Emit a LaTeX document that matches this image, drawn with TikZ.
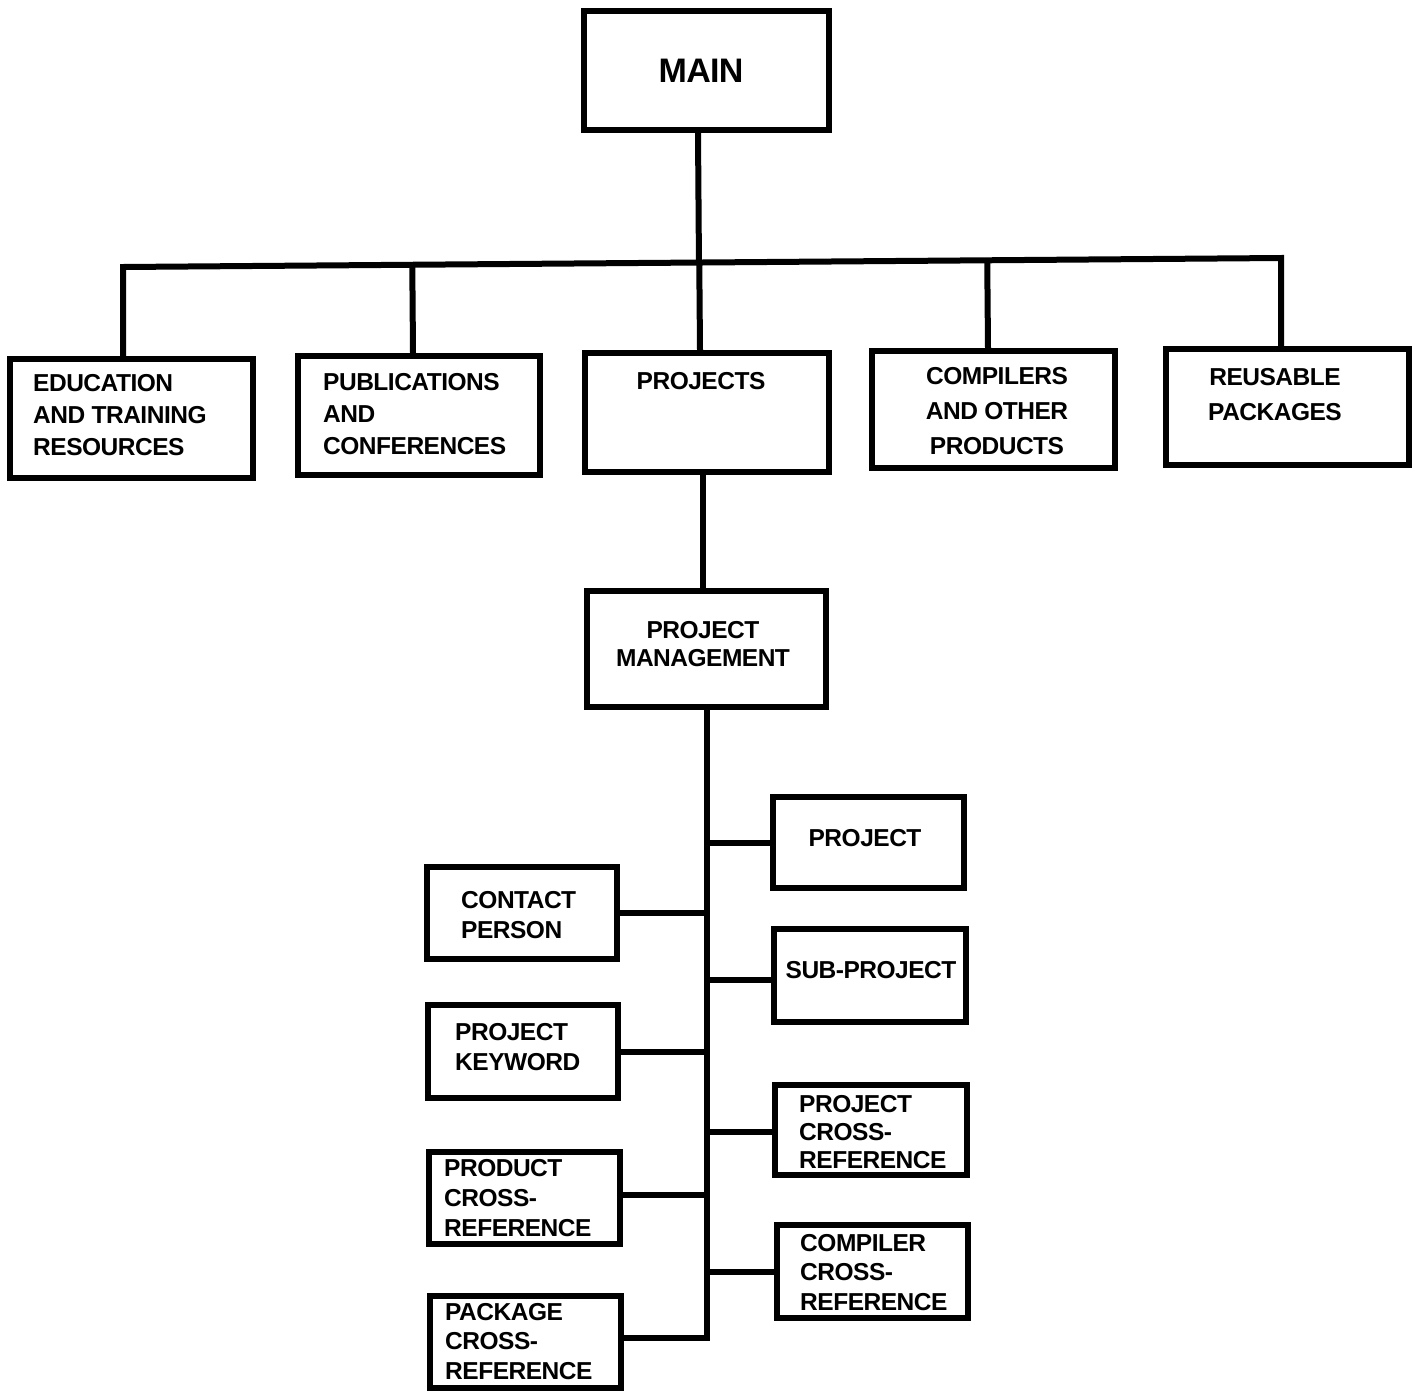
\documentclass[tikz,border=0pt]{standalone}
\usepackage{fontspec}
\setmainfont{Liberation Sans}
\newfontfamily\lblfont{Liberation Sans}[LetterSpace=-2.0]
\usetikzlibrary{calc}
\begin{document}
\begin{tikzpicture}[x=1pt,y=-1pt,
  box/.style={draw=black,line width=5.5pt,inner sep=0pt,fill=white},
  conn/.style={draw=black,line width=6pt},
  lbl/.style={inner sep=0pt,align=left,anchor=north west,font=\lblfont\bfseries\fontsize{24.5}{31}\selectfont},
  clbl/.style={inner sep=0pt,align=center,anchor=north,font=\lblfont\bfseries\fontsize{24.5}{31}\selectfont}]
\useasboundingbox[fill=white] (0,0) rectangle (1416,1395);
% bus end points
\coordinate (busL) at (123,267);
\coordinate (busR) at (1281,258);
% boxes
\node[box,minimum width=245pt,minimum height=119pt] (main) at (706.5,70.5) {};
\node[box,minimum width=243pt,minimum height=119pt] (edu) at (131.5,418.5) {};
\node[box,minimum width=242pt,minimum height=119pt] (pub) at (419,415.5) {};
\node[box,minimum width=244pt,minimum height=119pt] (proj) at (707,412.5) {};
\node[box,minimum width=243pt,minimum height=117pt] (comp) at (993.5,409.5) {};
\node[box,minimum width=243pt,minimum height=116pt] (reus) at (1287.5,407) {};
\node[box,minimum width=239pt,minimum height=116pt] (pm) at (706.5,649) {};
\node[box,minimum width=191pt,minimum height=91pt] (project) at (868.5,842.5) {};
\node[box,minimum width=192pt,minimum height=93pt] (subproj) at (870,975.5) {};
\node[box,minimum width=192pt,minimum height=90pt] (pxr) at (871,1130) {};
\node[box,minimum width=191pt,minimum height=93pt] (cxr) at (872.5,1271.5) {};
\node[box,minimum width=190pt,minimum height=92pt] (contact) at (522,913) {};
\node[box,minimum width=190pt,minimum height=93pt] (keyword) at (523,1051.5) {};
\node[box,minimum width=191pt,minimum height=92pt] (prodxr) at (524.5,1198) {};
\node[box,minimum width=191pt,minimum height=92pt] (pkgxr) at (525.5,1342) {};
% tree connectors
\draw[conn] (edu.north -| busL) -- (busL) -- (busR) -- (busR |- reus.north);
\draw[conn] ([xshift=-8.5pt]main.south) -- ($(busL)!([xshift=-8.5pt]main.south)!(busR)$);
\draw[conn] ([xshift=-6pt]pub.north) -- ($(busL)!([xshift=-6pt]pub.north)!(busR)$);
\draw[conn] ([xshift=-7pt]proj.north) -- ($(busL)!([xshift=-7pt]proj.north)!(busR)$);
\draw[conn] ([xshift=-5.5pt]comp.north) -- ($(busL)!([xshift=-5.5pt]comp.north)!(busR)$);
\draw[conn] ([xshift=-4pt]proj.south) -- ([xshift=-4pt]proj.south |- pm.north);
\draw[conn] (pm.south) -- ([yshift=4pt]pm.south |- pkgxr.east) -- ([yshift=4pt]pkgxr.east);
\draw[conn] (project.west) -- (project.west -| pm.south);
\draw[conn] ([yshift=-4pt]subproj.west) -- ([yshift=-4pt]subproj.west -| pm.south);
\draw[conn] ([yshift=-2pt]pxr.west) -- ([yshift=-2pt]pxr.west -| pm.south);
\draw[conn] (cxr.west) -- (cxr.west -| pm.south);
\draw[conn] (contact.east) -- (contact.east -| pm.south);
\draw[conn] (keyword.east) -- (keyword.east -| pm.south);
\draw[conn] ([yshift=3pt]prodxr.east) -- ([yshift=3pt]prodxr.east -| pm.south);
% labels
\node[inner sep=0pt,font=\lblfont\bfseries\fontsize{34}{40}\selectfont] (mainT) at (701,71) {MAIN};
\node[lbl,font=\lblfont\bfseries\fontsize{24.5}{32}\selectfont] (eduT) at (33,374) {EDUCATION\\AND TRAINING\\RESOURCES};
\node[lbl,font=\lblfont\bfseries\fontsize{24.5}{32}\selectfont] (pubT) at (323,373) {PUBLICATIONS\\AND\\CONFERENCES};
\node[clbl] (projT) at (701,372) {PROJECTS};
\node[clbl,font=\lblfont\bfseries\fontsize{24.5}{35}\selectfont] (compT) at (997,367) {COMPILERS\\AND OTHER\\PRODUCTS};
\node[clbl,font=\lblfont\bfseries\fontsize{24.5}{35}\selectfont] (reusT) at (1275,368) {REUSABLE\\PACKAGES};
\node[clbl,font=\lblfont\bfseries\fontsize{24.5}{28}\selectfont] (pmT) at (703,621) {PROJECT\\MANAGEMENT};
\node[clbl] (projectT) at (865,829) {PROJECT};
\node[clbl] (subprojT) at (871,961) {SUB-PROJECT};
\node[lbl,font=\lblfont\bfseries\fontsize{24.5}{28}\selectfont] (pxrT) at (799,1095) {PROJECT\\CROSS-\\REFERENCE};
\node[lbl,font=\lblfont\bfseries\fontsize{24.5}{29.5}\selectfont] (cxrT) at (800,1234) {COMPILER\\CROSS-\\REFERENCE};
\node[lbl,font=\lblfont\bfseries\fontsize{24.5}{30}\selectfont] (contactT) at (461,891) {CONTACT\\PERSON};
\node[lbl,font=\lblfont\bfseries\fontsize{24.5}{30}\selectfont] (keywordT) at (455,1023) {PROJECT\\KEYWORD};
\node[lbl,font=\lblfont\bfseries\fontsize{24.5}{30}\selectfont] (prodxrT) at (444,1159) {PRODUCT\\CROSS-\\REFERENCE};
\node[lbl,font=\lblfont\bfseries\fontsize{24.5}{29.5}\selectfont] (pkgxrT) at (445,1303) {PACKAGE\\CROSS-\\REFERENCE};
\end{tikzpicture}
\end{document}
